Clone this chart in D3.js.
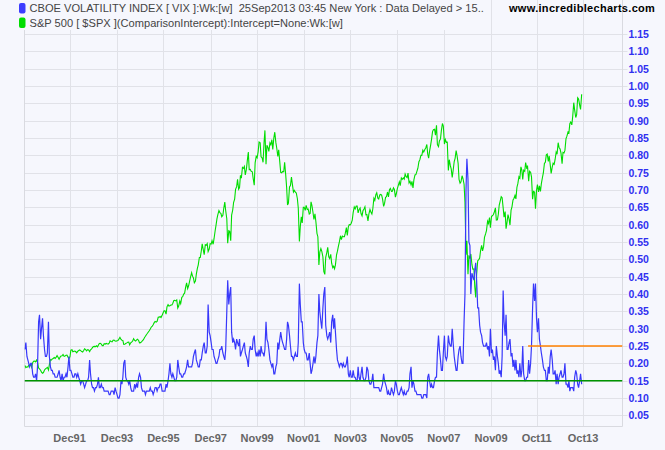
<!DOCTYPE html>
<html><head><meta charset="utf-8">
<script src="https://cdn.jsdelivr.net/npm/d3@7/dist/d3.min.js"></script>
<style>html,body{margin:0;padding:0;background:#f6f7fd;}svg{display:block;}</style>
</head><body>
<svg id="chart" width="665" height="450"></svg>
<script>
// ---- data (semi-monthly samples, Jan 1990 .. Sep 2013) ----
const vix = [
// 1990
0.24,0.26,0.22,0.21,0.20,0.19,0.20,0.20,0.17,0.16,0.16,0.17,0.15,0.19,0.32,0.34,0.27,0.30,0.33,0.28,0.24,0.22,0.22,0.23,
// 1991
0.32,0.22,0.19,0.18,0.18,0.17,0.17,0.16,0.16,0.16,0.17,0.18,0.16,0.15,0.17,0.15,0.16,0.16,0.17,0.16,0.19,0.22,0.18,0.18,
// 1992
0.17,0.16,0.16,0.17,0.17,0.16,0.17,0.16,0.15,0.14,0.15,0.15,0.14,0.13,0.14,0.15,0.15,0.16,0.21,0.17,0.14,0.13,0.13,0.12,
// 1993
0.13,0.13,0.14,0.16,0.13,0.13,0.14,0.13,0.13,0.12,0.12,0.12,0.12,0.12,0.11,0.11,0.12,0.12,0.12,0.11,0.13,0.12,0.11,0.10,
// 1994
0.10,0.11,0.15,0.14,0.16,0.20,0.21,0.16,0.15,0.15,0.14,0.15,0.13,0.12,0.12,0.12,0.14,0.13,0.14,0.13,0.16,0.17,0.16,0.13,
// 1995
0.12,0.12,0.12,0.11,0.12,0.12,0.12,0.12,0.13,0.12,0.12,0.11,0.12,0.13,0.13,0.12,0.13,0.13,0.14,0.14,0.12,0.12,0.12,0.12,
// 1996
0.14,0.13,0.15,0.17,0.20,0.17,0.16,0.17,0.16,0.15,0.15,0.16,0.21,0.19,0.17,0.17,0.16,0.16,0.17,0.17,0.18,0.19,0.21,0.19,
// 1997
0.19,0.19,0.19,0.20,0.22,0.23,0.24,0.21,0.20,0.19,0.19,0.21,0.21,0.23,0.25,0.26,0.23,0.23,0.25,0.37,0.29,0.28,0.26,0.24,
// 1998
0.24,0.22,0.21,0.20,0.20,0.21,0.22,0.24,0.24,0.25,0.23,0.22,0.21,0.24,0.35,0.44,0.37,0.40,0.42,0.29,0.26,0.27,0.26,0.24,
// 1999
0.27,0.26,0.25,0.27,0.22,0.23,0.24,0.25,0.26,0.23,0.22,0.21,0.19,0.23,0.25,0.24,0.24,0.27,0.28,0.24,0.22,0.23,0.22,0.24,
// 2000
0.22,0.25,0.23,0.23,0.22,0.24,0.32,0.27,0.26,0.24,0.21,0.20,0.19,0.20,0.17,0.17,0.19,0.20,0.26,0.24,0.27,0.29,0.27,0.26,
// 2001
0.25,0.24,0.24,0.27,0.32,0.31,0.28,0.25,0.22,0.22,0.21,0.22,0.23,0.22,0.22,0.26,0.43,0.37,0.32,0.32,0.26,0.24,0.23,0.23,
// 2002
0.21,0.21,0.23,0.20,0.17,0.18,0.20,0.22,0.20,0.22,0.26,0.28,0.40,0.35,0.32,0.30,0.36,0.40,0.42,0.31,0.28,0.27,0.28,0.29,
// 2003
0.26,0.32,0.34,0.30,0.33,0.29,0.24,0.21,0.20,0.19,0.20,0.20,0.19,0.20,0.19,0.19,0.20,0.22,0.17,0.16,0.18,0.16,0.16,0.18,
// 2004
0.16,0.16,0.15,0.15,0.19,0.16,0.15,0.17,0.19,0.16,0.15,0.15,0.16,0.19,0.18,0.15,0.14,0.14,0.15,0.17,0.13,0.13,0.13,0.13,
// 2005
0.13,0.13,0.12,0.12,0.13,0.14,0.17,0.15,0.14,0.13,0.11,0.12,0.11,0.11,0.13,0.12,0.11,0.12,0.15,0.14,0.12,0.11,0.11,0.12,
// 2006
0.13,0.12,0.11,0.12,0.11,0.11,0.12,0.12,0.13,0.17,0.19,0.13,0.15,0.14,0.12,0.12,0.11,0.11,0.11,0.11,0.11,0.10,0.10,0.11,
// 2007
0.11,0.11,0.10,0.16,0.17,0.15,0.13,0.14,0.13,0.13,0.15,0.16,0.16,0.23,0.28,0.24,0.21,0.18,0.18,0.23,0.28,0.22,0.21,0.22,
// 2008
0.28,0.26,0.25,0.25,0.30,0.26,0.22,0.20,0.18,0.18,0.22,0.24,0.25,0.22,0.20,0.20,0.32,0.40,0.70,0.79,0.73,0.55,0.54,0.40,
// 2009
0.46,0.45,0.44,0.47,0.49,0.44,0.36,0.36,0.31,0.29,0.28,0.26,0.25,0.25,0.25,0.26,0.24,0.25,0.22,0.30,0.23,0.24,0.21,0.22,
// 2010
0.18,0.25,0.22,0.20,0.17,0.18,0.16,0.22,0.41,0.32,0.28,0.34,0.24,0.24,0.26,0.27,0.22,0.23,0.19,0.21,0.18,0.21,0.17,0.18,
// 2011
0.16,0.20,0.16,0.18,0.25,0.17,0.15,0.15,0.16,0.16,0.21,0.17,0.20,0.25,0.36,0.43,0.38,0.43,0.33,0.29,0.33,0.27,0.25,0.23,
// 2012
0.21,0.19,0.18,0.18,0.15,0.15,0.19,0.17,0.22,0.24,0.21,0.17,0.17,0.18,0.14,0.17,0.14,0.16,0.17,0.18,0.16,0.16,0.17,0.20,
// 2013
0.14,0.14,0.13,0.15,0.12,0.13,0.13,0.13,0.12,0.16,0.18,0.17,0.14,0.13,0.15,0.17,0.14
];

// S&P 500 index level, same sample dates
const spx = [
// 1990
340,329,333,332,341,339,344,331,354,361,362,358,367,356,327,323,316,306,300,304,317,322,326,330,
// 1991
317,344,369,367,373,375,380,375,382,390,380,371,382,388,389,395,386,388,391,392,382,375,384,417,
// 1992
419,409,412,413,409,404,412,415,418,415,410,408,415,424,420,414,420,418,410,419,423,431,435,436,
// 1993
435,439,434,443,451,452,448,440,440,450,448,451,449,448,452,464,461,459,467,468,463,462,465,466,
// 1994
474,482,471,467,466,446,447,451,454,457,458,444,454,458,464,475,466,463,469,472,466,454,455,459,
// 1995
465,470,481,487,495,501,509,515,524,533,539,545,556,562,559,562,583,584,587,582,593,605,616,616,
// 1996
599,636,647,640,641,645,645,654,668,669,666,671,630,640,665,652,684,687,700,705,737,757,728,741,
// 1997
766,786,808,791,782,757,766,801,830,848,885,885,918,954,924,899,950,947,955,915,928,955,953,970,
// 1998
952,980,1020,1049,1080,1102,1122,1112,1108,1091,1098,1134,1165,1121,1081,957,1020,1017,970,1099,1125,1164,1180,1229,
// 1999
1243,1280,1230,1238,1300,1286,1340,1335,1345,1302,1330,1373,1418,1329,1330,1320,1318,1283,1250,1363,1396,1389,1420,1469,
// 2000
1465,1394,1388,1366,1464,1527,1356,1452,1440,1421,1464,1455,1480,1431,1491,1518,1465,1437,1396,1429,1367,1315,1313,1320,
// 2001
1318,1366,1301,1240,1150,1160,1242,1249,1291,1256,1216,1224,1215,1211,1182,1134,966,1041,1090,1060,1139,1139,1123,1148,
// 2002
1128,1130,1104,1107,1166,1147,1111,1077,1106,1067,1007,990,847,912,930,916,889,815,800,886,910,936,889,880,
// 2003
901,856,834,841,828,848,898,917,944,964,995,975,993,990,990,1008,1036,996,1040,1051,1050,1058,1074,1112,
// 2004
1140,1131,1145,1145,1110,1126,1135,1107,1095,1121,1130,1141,1101,1102,1070,1104,1128,1115,1105,1130,1184,1174,1203,1212,
// 2005
1185,1181,1201,1204,1200,1181,1143,1157,1189,1192,1216,1191,1227,1234,1219,1220,1237,1229,1190,1207,1234,1249,1267,1248,
// 2006
1287,1280,1287,1281,1307,1295,1289,1311,1262,1270,1252,1270,1236,1277,1302,1304,1321,1336,1369,1378,1401,1401,1427,1418,
// 2007
1431,1438,1456,1407,1387,1421,1453,1482,1522,1531,1533,1503,1553,1455,1445,1474,1484,1527,1562,1549,1458,1481,1467,1468,
// 2008
1325,1379,1349,1331,1289,1323,1370,1386,1425,1400,1360,1280,1260,1267,1298,1283,1255,1166,899,969,800,896,879,903,
// 2009
850,826,827,735,683,798,869,873,882,919,946,919,940,987,1004,1021,1068,1057,1087,1036,1093,1096,1102,1115,
// 2010
1136,1074,1075,1104,1150,1169,1192,1187,1136,1089,1117,1031,1065,1102,1079,1049,1125,1141,1176,1183,1199,1181,1240,1258,
// 2011
1293,1286,1343,1327,1279,1326,1320,1364,1338,1345,1271,1321,1316,1292,1179,1219,1216,1131,1224,1253,1216,1247,1219,1258,
// 2012
1289,1312,1361,1366,1404,1408,1370,1398,1353,1310,1342,1362,1356,1379,1418,1407,1465,1441,1433,1412,1359,1416,1413,1426,
// 2013
1486,1498,1519,1515,1561,1569,1555,1598,1667,1631,1592,1606,1692,1686,1655,1633,1710
];
const spxComparisonScale = 0.000571; // comparison overlay plotted against the VIX axis

const tickDates = ["1991-12-06","1993-12-10","1995-12-01","1997-12-05","1999-11-26","2001-11-16",
                   "2003-11-14","2005-11-04","2007-11-02","2009-11-06","2011-10-14","2013-10-04"];
const yTicks = [0.05,0.10,0.15,0.20,0.25,0.30,0.35,0.40,0.45,0.50,0.55,0.60,0.65,0.70,0.75,0.80,0.85,0.90,0.95,1.00,1.05,1.10,1.15];
const refLines = [
  {value:0.15, from:"1990-01-05", color:"#009400"},
  {value:0.25, from:"2011-06-03", color:"#ff8000"}
];
const legendItems = [
  {text:"CBOE VOLATILITY INDEX [ VIX ]:Wk:[w]  25Sep2013 03:45 New York : Data Delayed > 15..", color:"#3c3cff"},
  {text:"S&P 500 [ $SPX ](ComparisonIntercept):Intercept=None:Wk:[w]", color:"#00dd00"}
];

// ---- layout ----
const W=665,H=450, L=24.5, R=622.5, T=0, B=426.5;
const bg="#f6f7fd", grid="#e1e2e8";
const svg=d3.select("#chart");
svg.append("rect").attr("width",W).attr("height",H).attr("fill",bg);

const parse=d3.timeParse("%Y-%m-%d");
// sample dates: 12th and 26th of each month
const dates=[];
for(let i=0;i<vix.length;i++){
  const yy=1990+Math.floor(i/24), m=Math.floor((i%24)/2), d=(i%2===0)?12:26;
  dates.push(new Date(yy,m,d));
}
const x=d3.scaleTime().domain([new Date(1990,0,5), new Date(2015,5,8)]).range([L,R]);
const y=d3.scaleLinear().domain([0.018,1.248]).range([B,T]);
const px=v=>Math.round(v)+0.5;

// grid
const tDates=tickDates.map(parse);
svg.append("g").selectAll("line").data(tDates).join("line")
  .attr("x1",d=>px(x(d))).attr("x2",d=>px(x(d))).attr("y1",T).attr("y2",B)
  .attr("stroke",grid).attr("stroke-width",1);
svg.append("g").selectAll("line").data(yTicks).join("line")
  .attr("x1",L).attr("x2",R+5).attr("y1",d=>px(y(d))).attr("y2",d=>px(y(d)))
  .attr("stroke",grid).attr("stroke-width",1);
// frame
svg.append("path").attr("d",`M${L},${T}V${B}H${R}V${T}`).attr("fill","none").attr("stroke","#d9dae0");

// clip
svg.append("clipPath").attr("id","clip").append("rect").attr("x",L).attr("y",T).attr("width",R-L).attr("height",B-T);
const plot=svg.append("g").attr("clip-path","url(#clip)");

const line=d3.line().x(d=>x(d[0])).y(d=>y(d[1]));
plot.append("path").datum(spx.map((v,i)=>[dates[i],v*spxComparisonScale]))
  .attr("d",line).attr("fill","none").attr("stroke","#00dd00").attr("stroke-width",1.1);
plot.append("path").datum(vix.map((v,i)=>[dates[i],v]))
  .attr("d",line).attr("fill","none").attr("stroke","#3838fa").attr("stroke-width",1.2);

plot.selectAll(".ref").data(refLines).join("line").attr("class","ref")
  .attr("x1",d=>x(parse(d.from))).attr("x2",R).attr("y1",d=>y(d.value)).attr("y2",d=>y(d.value))
  .attr("stroke",d=>d.color).attr("stroke-width",1.6);

// y axis labels (right)
svg.append("g").selectAll("text").data(yTicks).join("text")
  .attr("x",R+6).attr("y",d=>y(d)+4)
  .attr("font-family","Liberation Sans, Arial, sans-serif").attr("font-weight","bold").attr("font-size","10.5px")
  .attr("fill","#3030f0").text(d3.format(".2f"));

// x axis labels
const fmt=d3.timeFormat("%b%y");
svg.append("g").selectAll("text").data(tDates).join("text")
  .attr("x",d=>x(d)).attr("y",442).attr("text-anchor","middle")
  .attr("font-family","Liberation Sans, Arial, sans-serif").attr("font-weight","bold").attr("font-size","11px")
  .attr("fill","#666666").text(fmt);

// legend
svg.append("rect").attr("x",18).attr("y",0).attr("width",469).attr("height",30).attr("fill",bg);
const lg=svg.append("g").selectAll("g").data(legendItems).join("g")
  .attr("transform",(d,i)=>`translate(0,${i*14.5})`);
lg.append("rect").attr("x",19).attr("y",3).attr("width",6.5).attr("height",10.5).attr("rx",2)
  .attr("fill",d=>d.color);
lg.append("text").attr("x",29.5).attr("y",12.4).style("white-space","pre")
  .attr("font-family","Liberation Sans, Arial, sans-serif").attr("font-size","11.1px").attr("fill","#444")
  .text(d=>d.text);

svg.append("text").attr("x",509).attr("y",12)
  .attr("font-family","Liberation Sans, Arial, sans-serif").attr("font-weight","bold").attr("font-size","11px")
  .attr("letter-spacing","0.3px").attr("fill","#000").text("www.incrediblecharts.com");
</script>
</body></html>
